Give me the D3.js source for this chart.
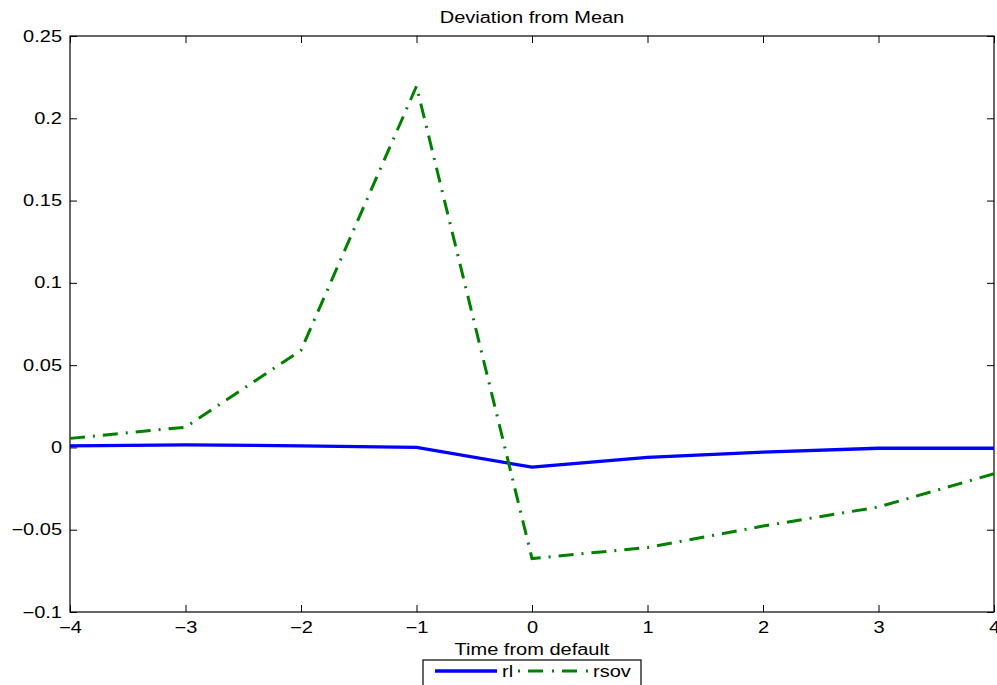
<!DOCTYPE html>
<html>
<head>
<meta charset="utf-8">
<script src="https://cdn.jsdelivr.net/npm/d3@7"></script>
<style>
  html, body { margin: 0; padding: 0; background: #fff; }
  svg { display: block; }
  text { font-family: "Liberation Sans", Arial, Helvetica, sans-serif; fill: #000; }
</style>
</head>
<body>
<svg id="chart" width="997" height="685"></svg>
<script>
// Time relative to the default event
const timeSteps = [-4, -3, -2, -1, 0, 1, 2, 3, 4];
// Deviation from mean for each series
const rlValues   = [0.001, 0.0015, 0.001, 0.0, -0.012, -0.006, -0.0028, -0.0005, -0.0005];
const rsovValues = [0.0055, 0.0123, 0.059, 0.2195, -0.0675, -0.0608, -0.0478, -0.0362, -0.016];
const seriesNames = ["rl", "rsov"];
const xTicks = [-4, -3, -2, -1, 0, 1, 2, 3, 4];
const yTicks = [0.25, 0.2, 0.15, 0.1, 0.05, 0, -0.05, -0.1];
const yTickLabels = ["0.25", "0.2", "0.15", "0.1", "0.05", "0", "\u22120.05", "\u22120.1"];

const W = 997, H = 685;
const plot = { left: 70, right: 994, top: 36, bottom: 612 };
const fontSize = 16;
const stretch = 1.25; // horizontally widened glyphs

const svg = d3.select("#chart");

const x = d3.scaleLinear().domain([-4, 4]).range([plot.left, plot.right]);
const y = d3.scaleLinear().domain([-0.1, 0.25]).range([plot.bottom, plot.top]);

const fmtX = d => (d < 0 ? "\u2212" + Math.abs(d) : String(d));

// Plot frame
svg.append("rect")
  .attr("x", plot.left).attr("y", plot.top)
  .attr("width", plot.right - plot.left).attr("height", plot.bottom - plot.top)
  .attr("fill", "none").attr("stroke", "#000").attr("stroke-width", 1.2);

function styleAxis(g) {
  g.select(".domain").remove();
  g.selectAll(".tick line").attr("stroke", "#000").attr("stroke-width", 1);
  g.selectAll(".tick text").attr("font-size", fontSize).attr("fill", "#000");
}

// Bottom axis with labels
const gx = svg.append("g")
  .attr("transform", `translate(0,${plot.bottom})`)
  .call(d3.axisBottom(x).tickValues(xTicks).tickFormat(fmtX)
        .tickSizeInner(-7).tickSizeOuter(0).tickPadding(9.5))
  .call(styleAxis);
gx.selectAll(".tick text").attr("transform", `scale(${stretch},1)`);

// Left axis with labels
const gy = svg.append("g")
  .attr("transform", `translate(${plot.left},0)`)
  .call(d3.axisLeft(y).tickValues(yTicks).tickFormat((d, i) => yTickLabels[i])
        .tickSizeInner(-7).tickSizeOuter(0).tickPadding(8))
  .call(styleAxis);
gy.selectAll(".tick text")
  .attr("x", -8 / stretch)
  .attr("transform", `scale(${stretch},1)`);

// Mirrored ticks on top and right edges
svg.append("g")
  .attr("transform", `translate(0,${plot.top})`)
  .call(d3.axisTop(x).tickValues(xTicks).tickFormat("").tickSizeInner(-7).tickSizeOuter(0))
  .call(styleAxis);
svg.append("g")
  .attr("transform", `translate(${plot.right},0)`)
  .call(d3.axisRight(y).tickValues(yTicks).tickFormat("").tickSizeInner(-7).tickSizeOuter(0))
  .call(styleAxis);

// Series lines
const line = d3.line().x((d, i) => x(timeSteps[i])).y(d => y(d));
const dashDot = "15,8,2,8";

svg.append("path")
  .datum(rlValues)
  .attr("d", line)
  .attr("fill", "none").attr("stroke", "#0000ff").attr("stroke-width", 3.3)
  .attr("stroke-linejoin", "round");

svg.append("path")
  .datum(rsovValues)
  .attr("d", line)
  .attr("fill", "none").attr("stroke", "#008000").attr("stroke-width", 3)
  .attr("stroke-dasharray", dashDot);

function stretchedText(tx, ty, str, anchor) {
  svg.append("text")
    .attr("transform", `translate(${tx},${ty}) scale(${stretch},1)`)
    .attr("text-anchor", anchor || "middle")
    .attr("font-size", fontSize)
    .text(str);
}

// Title and x-axis label
stretchedText((plot.left + plot.right) / 2, 23, "Deviation from Mean");
stretchedText((plot.left + plot.right) / 2, 655, "Time from default");

// Legend
const lg = svg.append("g");
lg.append("rect")
  .attr("x", 423).attr("y", 660).attr("width", 218).attr("height", 40)
  .attr("fill", "#fff").attr("stroke", "#000").attr("stroke-width", 1.2);
lg.append("line")
  .attr("x1", 435).attr("x2", 497).attr("y1", 671).attr("y2", 671)
  .attr("stroke", "#0000ff").attr("stroke-width", 3.3);
lg.append("line")
  .attr("x1", 518).attr("x2", 590).attr("y1", 671).attr("y2", 671)
  .attr("stroke", "#008000").attr("stroke-width", 3)
  .attr("stroke-dasharray", "2,8,15,9");
stretchedText(502, 677, seriesNames[0], "start");
stretchedText(593, 677, seriesNames[1], "start");
</script>
</body>
</html>
